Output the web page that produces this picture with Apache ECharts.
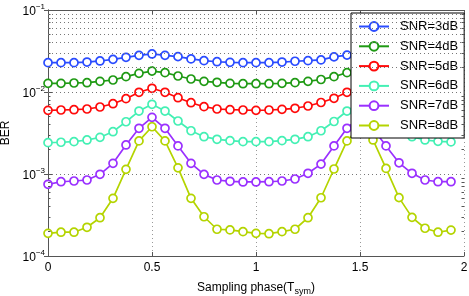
<!DOCTYPE html>
<html><head><meta charset="utf-8">
<script src="https://cdn.jsdelivr.net/npm/echarts@6/dist/echarts.min.js"></script>
<style>html,body{margin:0;padding:0;background:#fff}#c{width:469px;height:296px}</style>
</head><body><div id="c"></div>
<script>
const phase = [0,0.0625,0.125,0.1875,0.25,0.3125,0.375,0.4375,0.5,0.5625,0.625,0.6875,0.75,0.8125,0.875,0.9375,
  1,1.0625,1.125,1.1875,1.25,1.3125,1.375,1.4375,1.5,1.5625,1.625,1.6875,1.75,1.8125,1.875,1.9375];
const seriesNames = ['SNR=3dB','SNR=4dB','SNR=5dB','SNR=6dB','SNR=7dB','SNR=8dB'];
const ber3 = [0.0228,0.0228,0.0228,0.0232,0.0239,0.0250,0.0265,0.0280,0.0291,0.0280,0.0270,0.0253,0.0241,0.0234,0.0230,0.0228,
  0.0228,0.0228,0.0232,0.0237,0.0241,0.0246,0.0268,0.0282,0.0291,0.0280,0.0268,0.0252,0.0241,0.0234,0.0230,0.0228];
const ber4 = [0.01276,0.01276,0.01288,0.01298,0.0135,0.0140,0.01537,0.0169,0.0180,0.0172,0.01567,0.0144,0.0135,0.01313,0.01276,0.01262,
  0.01262,0.01262,0.01276,0.0130,0.0135,0.0142,0.01537,0.0172,0.0180,0.0171,0.0156,0.0144,0.0135,0.0131,0.0128,0.0127];
const ber5 = [0.00598,0.00603,0.00608,0.0062,0.00656,0.0072,0.00829,0.00992,0.0111,0.00992,0.00852,0.0074,0.00662,0.0062,0.00608,0.00603,
  0.00598,0.00603,0.00615,0.00633,0.00675,0.00745,0.00838,0.00992,0.0111,0.0099,0.0085,0.0074,0.0066,0.0062,0.0061,0.0060];
const ber6 = [0.00241,0.00244,0.00248,0.0026,0.0028,0.00328,0.00434,0.00586,0.00708,0.00586,0.00443,0.00337,0.00285,0.00265,0.00255,0.00248,
  0.00248,0.00248,0.00255,0.00265,0.00285,0.00337,0.00437,0.00586,0.00708,0.00586,0.0043,0.00319,0.00285,0.0026,0.0025,0.00246];
const ber7 = [0.000749,0.000805,0.000821,0.000845,0.000992,0.00135,0.00226,0.00361,0.00491,0.00361,0.0022,0.00135,0.00099,0.000845,0.000815,0.0008,
  0.0008,0.000805,0.000821,0.000869,0.00102,0.00132,0.0022,0.00361,0.00496,0.00361,0.0022,0.00137,0.00102,0.000845,0.000805,0.000805];
const ber8 = [0.000189,0.000195,0.000195,0.000224,0.000293,0.000505,0.00114,0.00253,0.00377,0.00253,0.00119,0.000505,0.000301,0.000212,0.000208,0.000198,
  0.000189,0.000187,0.000198,0.000212,0.000293,0.000513,0.00115,0.00253,0.00377,0.0026,0.00117,0.000515,0.000296,0.000218,0.000195,0.000207];
const colors = ['#2a4cff','#1f9a14','#ff0a0a','#44f0b4','#9a30ff','#b4d400'];
const xTicks = [0,0.5,1,1.5,2];
const yDecades = [1e-4,1e-3,1e-2,1e-1];
const yMinor = [2e-4,3e-4,4e-4,5e-4,6e-4,7e-4,8e-4,9e-4,2e-3,3e-3,4e-3,5e-3,6e-3,7e-3,8e-3,9e-3,2e-2,3e-2,4e-2,5e-2,6e-2,7e-2,8e-2,9e-2];

const allData = [ber3,ber4,ber5,ber6,ber7,ber8];
const font = 'Liberation Sans, Arial, sans-serif';
const axisCol = '#555';
const dot = {type:[1,3], color:'#777', width:1};
const series = allData.map((d,i)=>({
  name: seriesNames[i], type:'line', xAxisIndex:0, yAxisIndex:0,
  data: d.map((v,j)=>[phase[j], v]),
  symbol:'circle', symbolSize:8, showAllSymbol:true,
  lineStyle:{color:colors[i], width:1.7},
  itemStyle:{color:'#fff', borderColor:colors[i], borderWidth:1.7},
  animation:false, z:3
}));
const tickSegs = [];
yMinor.forEach(v=>{
  tickSegs.push([{coord:[0,v]},{coord:[0.012,v]}]);
  tickSegs.push([{coord:[1.988,v]},{coord:[2,v]}]);
});
series.unshift({
  type:'line', xAxisIndex:0, yAxisIndex:0, data:[], silent:true, animation:false, z:1,
  markLine:{silent:true, animation:false, symbol:['none','none'], label:{show:false},
    lineStyle:dot, data: yMinor.map(v=>({yAxis:v}))}
});
series.unshift({
  type:'line', xAxisIndex:0, yAxisIndex:0, data:[], silent:true, animation:false, z:2,
  markLine:{silent:true, animation:false, symbol:['none','none'], label:{show:false},
    lineStyle:{type:'solid', color:axisCol, width:1}, data: tickSegs}
});

const chart = echarts.init(document.getElementById('c'), null, {renderer:'canvas'});
chart.setOption({
  backgroundColor:'#fff',
  animation:false,
  grid:{left:48, right:5, top:10, bottom:40, containLabel:false, outerBoundsMode:'none'},
  legend:{
    data: seriesNames, orient:'vertical', left:351, top:13,
    backgroundColor:'#fff', borderColor:'#000', borderWidth:1,
    padding:[7,6,6,7], itemWidth:30, itemHeight:11, itemGap:6.8,
    textStyle:{fontFamily:font, fontSize:13, color:'#000', padding:[0,0,0,6]},
    selectedMode:false
  },
  xAxis:[{
    type:'value', min:0, max:2, interval:0.5, position:'bottom',
    name:'{a|Sampling phase(T}{s|sym}{a|)}', nameLocation:'middle', nameGap:23,
    nameTextStyle:{rich:{a:{fontFamily:font, fontSize:12, color:'#000'}, s:{fontFamily:font, fontSize:9, color:'#000', padding:[8,0,0,0]}}},
    axisLine:{show:true, lineStyle:{color:axisCol, width:1}},
    axisTick:{show:true, inside:true, length:4, lineStyle:{color:axisCol}},
    axisLabel:{fontFamily:font, fontSize:12, color:'#000', margin:6,
      formatter:v=>xTicks.indexOf(v)>=0 ? String(v) : ''},
    splitLine:{show:true, lineStyle:{type:[1,3], color:'#999', width:1}}
  },{
    type:'value', min:0, max:2, interval:0.5, position:'top',
    axisLine:{show:true, lineStyle:{color:axisCol, width:1}},
    axisTick:{show:true, inside:true, length:4, lineStyle:{color:axisCol}},
    axisLabel:{show:false}, splitLine:{show:false}
  }],
  yAxis:[{
    type:'log', logBase:10, min:1e-4, max:1e-1, position:'left',
    name:'BER', nameLocation:'middle', nameGap:34, nameRotate:90,
    nameTextStyle:{fontFamily:font, fontSize:12, color:'#000'},
    axisLine:{show:true, lineStyle:{color:axisCol, width:1}},
    axisTick:{show:true, inside:true, length:4, lineStyle:{color:axisCol}},
    axisLabel:{margin:3, color:'#000',
      formatter:v=>{
        const e = Math.round(Math.log10(v));
        return yDecades.some(d=>Math.abs(Math.log10(d)-e)<1e-6) ? '{a|10}{b|\u2212'+Math.abs(e)+'}' : '';
      },
      rich:{a:{fontFamily:font, fontSize:12, color:'#000', padding:[4,0,0,0]}, b:{fontFamily:font, fontSize:8, color:'#000', padding:[0,0,6,0]}}},
    splitLine:{show:true, lineStyle:dot}
  },{
    type:'log', logBase:10, min:1e-4, max:1e-1, position:'right',
    axisLine:{show:true, lineStyle:{color:axisCol, width:1}},
    axisTick:{show:true, inside:true, length:4, lineStyle:{color:axisCol}},
    axisLabel:{show:false}, splitLine:{show:false}
  }],
  series: series
});
</script></body></html>
